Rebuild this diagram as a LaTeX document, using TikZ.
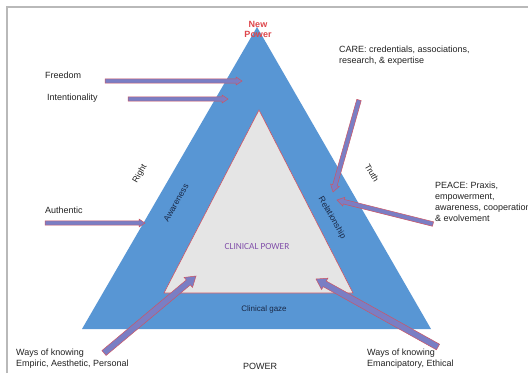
\documentclass[tikz,border=0pt]{standalone}
\usepackage{fontspec}
\setmainfont{Liberation Sans}
\newfontfamily\calibfont{Carlito}
\usetikzlibrary{calc}

\definecolor{bandblue}{RGB}{88,150,212}
\definecolor{coregray}{RGB}{229,229,229}
\definecolor{edgered}{RGB}{205,85,100}
\definecolor{arrowfill}{RGB}{122,126,196}
\definecolor{framegray}{RGB}{185,185,185}
\definecolor{powerred}{RGB}{222,70,75}
\definecolor{corepurple}{RGB}{130,80,170}
\definecolor{navytext}{RGB}{25,40,70}
\definecolor{inktext}{RGB}{35,35,35}

\tikzset{
  label/.style={font=\fontsize{9}{11}\selectfont, text=inktext, inner sep=0pt, align=left},
  sidelabel/.style={font=\fontsize{8.5}{10}\selectfont, text=inktext, inner sep=0pt},
  bandlabel/.style={font=\fontsize{8.5}{10}\selectfont, text=navytext, inner sep=0pt},
  blockarrow/.style={fill=arrowfill, draw=edgered, line width=0.5pt, line join=miter},
}

% block arrow: tail, head, shaft half-width, head half-width, head length
\newcommand\blockarrow[5]{%
  \coordinate (bh) at ($(#2)!#5!(#1)$);
  \filldraw[blockarrow] ($(#1)!#3!90:(#2)$) -- ($(bh)!#3!-90:(#1)$)
    -- ($(bh)!#4!-90:(#1)$) -- (#2) -- ($(bh)!#4!90:(#1)$)
    -- ($(bh)!#3!90:(#1)$) -- ($(#1)!#3!-90:(#2)$) -- cycle;
}

\begin{document}
\begin{tikzpicture}[x=1pt, y=-1pt]
\clip (0,0) rectangle (528,373);
\fill[white] (0,0) rectangle (528,373);

% frame
\draw[framegray, line width=1.2pt] (7,373) -- (7,7) -- (528,7);

% outer band and inner core
\coordinate (oL) at (82,329);
\coordinate (oR) at (431,329);
\coordinate (oT) at (257,27);
\coordinate (iL) at (164,293);
\coordinate (iR) at (353,293);
\coordinate (iT) at (259,110);
\fill[bandblue] (oL) -- (oT) -- (oR) -- cycle;
\filldraw[fill=coregray, draw=edgered, line width=0.6pt] (iL) -- (iT) -- (iR) -- cycle;

% titles on the triangle
\node[font=\bfseries\fontsize{9}{10.5}\selectfont, text=powerred, align=center, inner sep=0pt]
  (newpower) at (258,29.5) {New\\Power};
\node[font=\calibfont\fontsize{9.3}{11}\selectfont, text=corepurple, inner sep=0pt]
  (clinpower) at (257,247) {CLINICAL POWER};
\node[font=\fontsize{8}{10}\selectfont, text=navytext, inner sep=0pt]
  (gaze) at (264,309) {Clinical gaze};
\node[bandlabel, rotate=60] (aware) at (176,203) {Awareness};
\node[bandlabel, rotate=-60] (relat) at (332,218) {Relationship};
\node[sidelabel, rotate=60] (right) at (140,174) {Right};
\node[sidelabel, rotate=-60] (truth) at (372,173) {Truth};
\node[font=\fontsize{9}{11}\selectfont, text=inktext, inner sep=0pt] (power) at (260,366) {POWER};

% outside labels
\node[label, anchor=west] (freedom) at (45,75) {Freedom};
\node[label, anchor=west] (intent) at (47,98) {Intentionality};
\node[label, anchor=west] (authentic) at (45,210) {Authentic};
\node[label, anchor=north west] (care) at (339,46)
  {CARE: credentials, associations,\\research, \& expertise};
\node[label, anchor=north west] (peace) at (435,182)
  {PEACE: Praxis,\\empowerment,\\awareness, cooperation\\\& evolvement};
\node[label, anchor=north west] (wkleft) at (16,349)
  {Ways of knowing\\Empiric, Aesthetic, Personal};
\node[label, anchor=north west] (wkright) at (367,349)
  {Ways of knowing\\Emancipatory, Ethical};

% arrow ends
\coordinate (freedomT) at (105,81);   \coordinate (freedomH) at (242,81);
\coordinate (intentT) at (128,99);    \coordinate (intentH) at (228,99);
\coordinate (authT) at (45,223);      \coordinate (authH) at (145,223);
\coordinate (careT) at (359,100);     \coordinate (careH) at (333,192);
\coordinate (peaceT) at (433,224);    \coordinate (peaceH) at (337,200);
\coordinate (wklT) at (104,353);      \coordinate (wklH) at (196,276);
\coordinate (wkrT) at (438,347);      \coordinate (wkrH) at (316,279);

\blockarrow{freedomT}{freedomH}{2.2pt}{4pt}{6pt}
\blockarrow{intentT}{intentH}{2.2pt}{4pt}{6pt}
\blockarrow{authT}{authH}{2.2pt}{4pt}{6pt}
\blockarrow{careT}{careH}{2.3pt}{4.5pt}{7pt}
\blockarrow{peaceT}{peaceH}{2.3pt}{4.5pt}{7pt}
\blockarrow{wklT}{wklH}{3.2pt}{6.5pt}{10pt}
\blockarrow{wkrT}{wkrH}{3.2pt}{6.5pt}{10pt}
\end{tikzpicture}
\end{document}
